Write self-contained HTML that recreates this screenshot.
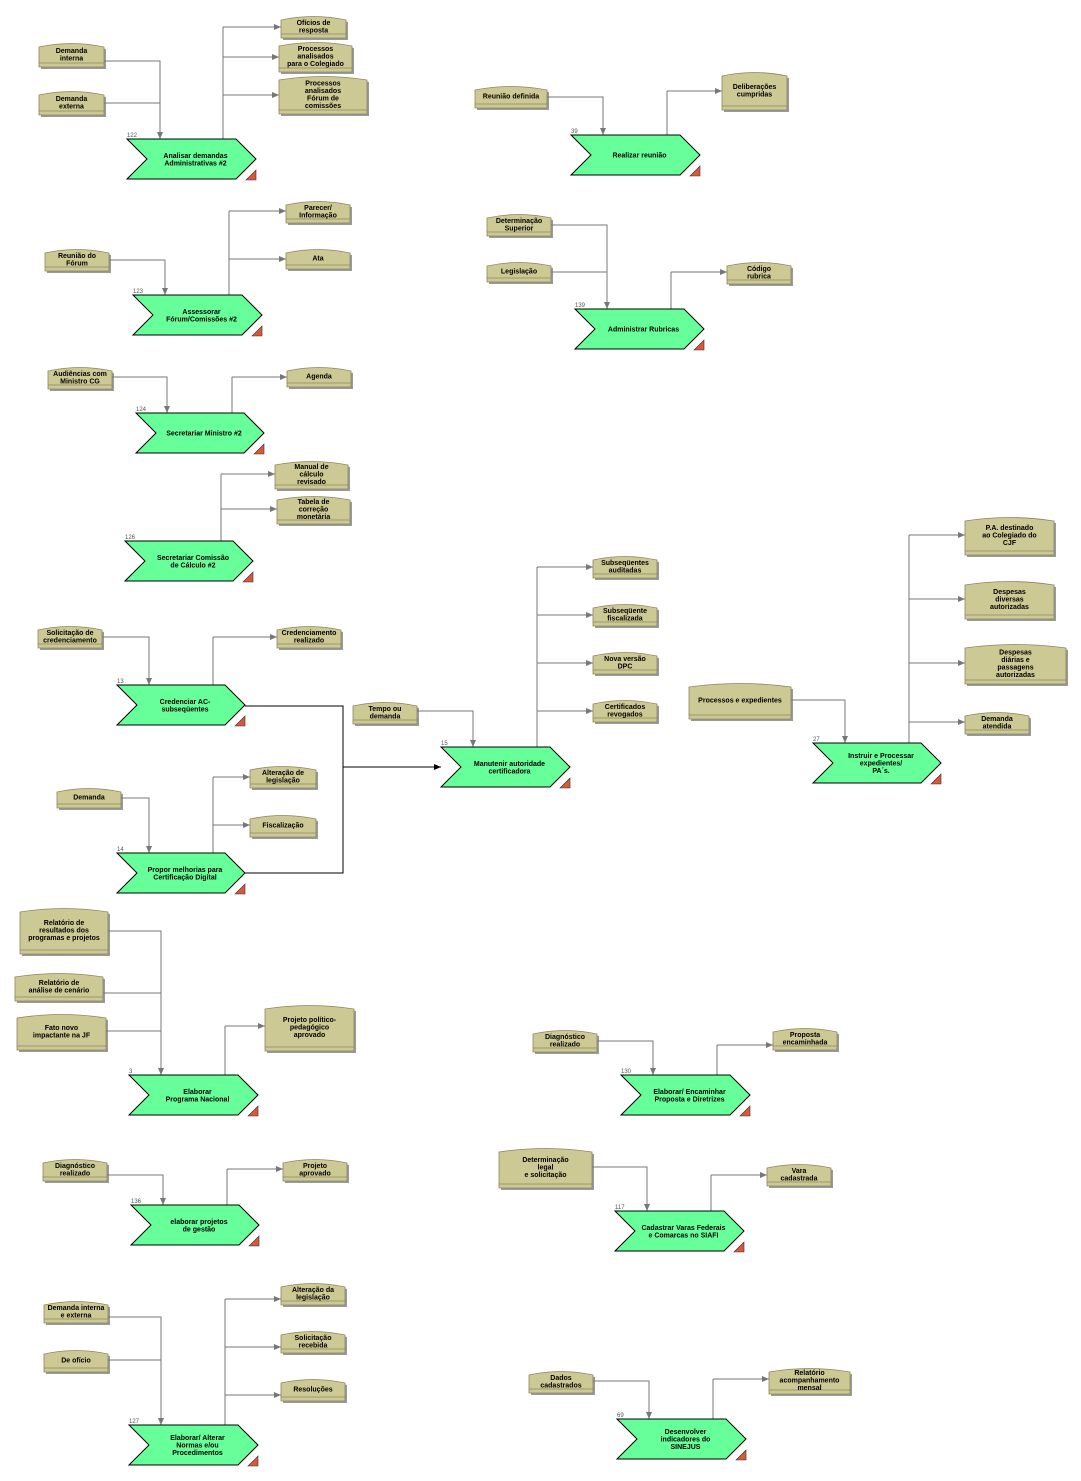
<!DOCTYPE html>
<html><head><meta charset="utf-8"><style>
html,body{margin:0;padding:0;background:#fff;}
svg{display:block;}
text{font-family:"Liberation Sans",Arial,sans-serif;font-size:7px;font-weight:bold;fill:#000;}
</style></head><body>
<svg id="s" width="1081" height="1481" xmlns="http://www.w3.org/2000/svg"></svg>
<script>
var s=document.getElementById('s'),o='';
o+='<defs><marker id="a" markerWidth="8" markerHeight="8" refX="7" refY="3" orient="auto" markerUnits="userSpaceOnUse"><path d="M0,0 L7,3 L0,6 Z" fill="#777"/></marker><marker id="b" markerWidth="8" markerHeight="8" refX="7" refY="3" orient="auto" markerUnits="userSpaceOnUse"><path d="M0,0 L7,3 L0,6 Z" fill="#000"/></marker></defs>';
function txt(cx,cy,lines){var n=lines.length,lh=7.5,y0=cy-(n-1)*lh/2+2.5;
 lines.forEach(function(l,i){o+='<text x="'+cx+'" y="'+(y0+i*lh)+'" text-anchor="middle">'+l+'</text>';});}
function box(x,y,w,h,lines){
 var p=function(dx,dy){return 'M'+(x+dx)+','+(y+dy+4)+' Q'+(x+dx+w/2)+','+(y+dy-3)+' '+(x+dx+w)+','+(y+dy+4)+' L'+(x+dx+w)+','+(y+dy+h)+' L'+(x+dx)+','+(y+dy+h)+' Z';};
 o+='<path d="'+p(2,2)+'" fill="#9a9a9a"/>';
 o+='<path d="'+p(0,0)+'" fill="#cdc994" stroke="#8a8660" stroke-width="0.8"/>';
 o+='<line x1="'+x+'" y1="'+(y+h-4)+'" x2="'+(x+w)+'" y2="'+(y+h-4)+'" stroke="#8a8660" stroke-width="0.8"/>';
 txt(x+w/2,y+(h-4)/2+1,lines);}
function proc(x,y,w,h,num,lines){
 var pts=[[x,y],[x+w-20,y],[x+w,y+h/2],[x+w-20,y+h],[x,y+h],[x+20,y+h/2]].map(function(p){return p.join(',');}).join(' ');
 o+='<polygon points="'+pts+'" fill="#66ff99" stroke="#000" stroke-width="1"/>';
 o+='<text x="'+x+'" y="'+(y-2)+'" style="font-size:6px;font-weight:normal;fill:#555">'+num+'</text>';
 o+='<polygon points="'+(x+w)+','+(y+h-9)+' '+(x+w)+','+(y+h+1)+' '+(x+w-10)+','+(y+h+1)+'" fill="#d9573a" stroke="#333" stroke-width="0.6"/>';
 txt(x+w/2+4,y+h/2,lines);}
function ln(pts,arrow,col){o+='<polyline points="'+pts.map(function(p){return p.join(',');}).join(' ')+'" fill="none" stroke="'+(col||'#777')+'" stroke-width="1"'+(arrow?' marker-end="url(#'+(col?'b':'a')+')"':'')+'/>';}
// input helper: from box right edge to column X then down to process top
function inp(x1,y1,cx,ty,arrow){ln([[x1,y1],[cx,y1],[cx,ty]],arrow);}
function outs(cx,py,targets){var top=Math.min.apply(null,targets.map(function(t){return t[1];}));
 ln([[cx,py],[cx,top]]);targets.forEach(function(t){ln([[cx,t[1]],[t[0],t[1]]],true);});}

// Group 122
box(39,43,65,24,['Demanda','interna']);box(39,91,65,24,['Demanda','externa']);
box(281,16,65,22,['Ofícios de','resposta']);box(279,42,73,30,['Processos','analisados','para o Colegiado']);
box(279,76,88,38,['Processos','analisados','Fórum de','comissões']);
inp(104,61,160,139,true);inp(104,103,160,139,false);
outs(223,139,[[281,27],[279,57],[279,95]]);
proc(127,139,129,40,'122',['Analisar demandas','Administrativas #2']);

// 123
box(45,249,64,22,['Reunião do','Fórum']);box(286,201,64,22,['Parecer/','Informação']);box(286,249,64,20,['Ata']);
inp(109,260,165,295,true);outs(229,295,[[286,211],[286,259]]);
proc(133,295,129,40,'123',['Assessorar','Fórum/Comissões #2']);

// 124
box(48,367,64,22,['Audiências com','Ministro CG']);box(287,367,64,20,['Agenda']);
inp(112,377,167,413,true);outs(232,413,[[287,377]]);
proc(136,413,128,40,'124',['Secretariar Ministro #2']);

// 126
box(275,461,73,28,['Manual de','cálculo','revisado']);box(277,496,73,28,['Tabela de','correção','monetária']);
outs(221,541,[[275,474],[277,509]]);
proc(125,541,128,40,'126',['Secretariar Comissão','de Cálculo #2']);

// 13
box(38,626,64,22,['Solicitação de','credenciamento']);box(277,626,64,22,['Credenciamento','realizado']);
inp(102,637,149,685,true);outs(213,685,[[277,637]]);
ln([[245,706],[343,706],[343,873],[245,873]],false,'#000');
ln([[343,767],[441,767]],true,'#000');
proc(117,685,128,40,'13',['Credenciar AC-','subseqüentes']);

// 14
box(57,788,64,20,['Demanda']);box(250,766,66,22,['Alteração de','legislação']);box(250,815,66,22,['Fiscalização']);
inp(121,798,149,853,true);outs(213,853,[[250,777],[250,825]]);
proc(117,853,128,40,'14',['Propor melhorias para','Certificação Digital']);

// 15
box(353,702,64,22,['Tempo ou','demanda']);
box(593,556,64,22,['Subseqüentes','auditadas']);box(593,604,64,22,['Subseqüente','fiscalizada']);
box(593,652,64,22,['Nova versão','DPC']);box(593,700,64,22,['Certificados','revogados']);
inp(417,711,473,747,true);outs(537,747,[[593,567],[593,615],[593,663],[593,711]]);
proc(441,747,129,40,'15',['Manutenir autoridade','certificadora']);

// 27
box(689,683,102,36,['Processos e expedientes']);
box(965,517,89,38,['P.A. destinado','ao Colegiado do','CJF']);box(965,581,89,38,['Despesas','diversas','autorizadas']);
box(965,644,101,40,['Despesas','diárias e','passagens','autorizadas']);box(965,712,64,22,['Demanda','atendida']);
inp(791,700,845,743,true);outs(909,743,[[965,535],[965,599],[965,663],[965,722]]);
proc(813,743,128,40,'27',['Instruir e Processar','expedientes/','PA´s.']);

// 3
box(20,908,88,46,['Relatório de','resultados dos','programas e projetos']);
box(15,973,88,28,['Relatório de','análise de cenário']);
box(17,1014,89,36,['Fato novo','impactante na JF']);
box(265,1005,89,46,['Projeto político-','pedagógico','aprovado']);
inp(108,931,161,1075,true);inp(103,993,161,1075,false);inp(106,1031,161,1075,false);
outs(225,1075,[[265,1026]]);
proc(129,1075,129,40,'3',['Elaborar','Programa Nacional']);

// 136
box(43,1159,64,22,['Diagnóstico','realizado']);box(283,1159,64,22,['Projeto','aprovado']);
inp(107,1175,163,1205,true);outs(227,1205,[[283,1169]]);
proc(131,1205,128,40,'136',['elaborar projetos','de gestão']);

// 127
box(44,1301,64,22,['Demanda interna','e externa']);box(44,1350,64,22,['De ofício']);
box(281,1283,64,22,['Alteração da','legislação']);box(281,1331,64,22,['Solicitação','recebida']);box(281,1379,64,22,['Resoluções']);
inp(108,1317,161,1425,true);inp(108,1360,161,1425,false);
outs(225,1425,[[281,1299],[281,1347],[281,1395]]);
proc(129,1425,129,40,'127',['Elaborar/ Alterar','Normas e/ou','Procedimentos']);

// 39
box(475,86,72,22,['Reunião definida']);box(722,72,65,38,['Deliberações','cumpridas']);
inp(547,97,603,135,true);outs(667,135,[[722,91]]);
proc(571,135,129,40,'39',['Realizar reunião']);

// 139
box(487,214,64,22,['Determinação','Superior']);box(487,262,64,20,['Legislação']);box(727,262,64,22,['Código','rubrica']);
inp(551,225,607,309,true);inp(551,272,607,309,false);outs(671,309,[[727,272]]);
proc(575,309,129,40,'139',['Administrar Rubricas']);

// 130
box(533,1030,64,22,['Diagnóstico','realizado']);box(773,1028,64,22,['Proposta','encaminhada']);
inp(597,1041,653,1075,true);outs(717,1075,[[773,1045]]);
proc(621,1075,129,40,'130',['Elaborar/ Encaminhar','Proposta e Diretrizes']);

// 117
box(499,1148,93,40,['Determinação','legal','e solicitação']);box(767,1164,64,22,['Vara','cadastrada']);
inp(592,1167,647,1211,true);outs(711,1211,[[767,1175]]);
proc(615,1211,129,40,'117',['Cadastrar Varas Federais','e Comarcas no SIAFI']);

// 69
box(529,1371,64,22,['Dados','cadastrados']);box(769,1368,81,26,['Relatório','acompanhamento','mensal']);
inp(593,1381,649,1419,true);outs(713,1419,[[769,1379]]);
proc(617,1419,129,40,'69',['Desenvolver','indicadores do','SINEJUS']);

s.innerHTML=o;
</script>
</body></html>
